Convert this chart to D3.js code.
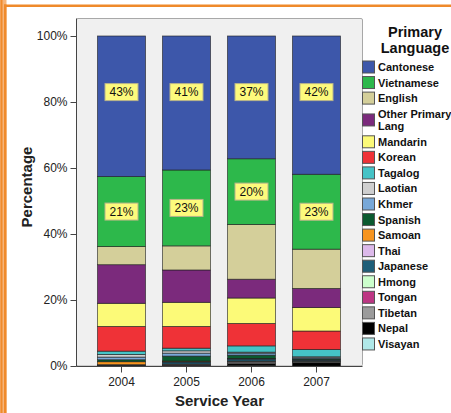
<!DOCTYPE html>
<html><head><meta charset="utf-8">
<script src="https://cdn.jsdelivr.net/npm/d3@7"></script>
<style>body{margin:0;background:#fff}svg{display:block}text{font-family:Arial,"Liberation Sans",sans-serif}</style>
</head><body><svg id="c" width="451" height="413"></svg>
<script>
const years = ["2004","2005","2006","2007"];
const languages = ["Cantonese","Vietnamese","English","Other Primary Lang","Mandarin","Korean","Tagalog","Laotian","Khmer","Spanish","Samoan","Thai","Japanese","Hmong","Tongan","Tibetan","Nepal","Visayan"];
const legendLines = [["Cantonese"],["Vietnamese"],["English"],["Other Primary","Lang"],["Mandarin"],["Korean"],["Tagalog"],["Laotian"],["Khmer"],["Spanish"],["Samoan"],["Thai"],["Japanese"],["Hmong"],["Tongan"],["Tibetan"],["Nepal"],["Visayan"]];
const palette = ["#3d57aa","#2db84b","#d4cf9a","#7b2a7c","#fcfa78","#ef3237","#45c3c6","#cfcfcf","#78a8d8","#0b5a2f","#f7941e","#dcb9ea","#1f5e78","#ccffcc","#bd3683","#9b9b9b","#000000","#b0e8e8"];
const cantonese = [42.6, 40.6, 37.2, 41.9];
const vietnamese = [21.2, 23.0, 19.9, 22.7];
const english = [5.5, 7.3, 16.6, 11.9];
const otherLang = [11.7, 9.8, 5.7, 5.8];
const mandarin = [7.0, 7.3, 7.7, 7.1];
const korean = [7.5, 6.6, 6.8, 5.6];
const tagalog = [1.0, 0.8, 1.9, 2.2];
const laotian = [0.8, 0.7, 0.3, 0.3];
const khmer = [0.8, 0.9, 0.6, 0.3];
const spanish = [0.6, 1.5, 1.0, 0.3];
const samoan = [0.9, 0.2, 0.1, 0.0];
const thai = [0.1, 0.1, 0.1, 0.1];
const japanese = [0.2, 0.6, 0.6, 0.3];
const hmong = [0.0, 0.1, 0.1, 0.1];
const tongan = [0.1, 0.2, 0.2, 0.1];
const tibetan = [0.0, 0.2, 0.5, 0.3];
const nepal = [0.0, 0.1, 0.5, 1.0];
const visayan = [0.0, 0.0, 0.2, 0.0];
const yTicks = [0, 20, 40, 60, 80, 100];
const labelledSeries = ["Cantonese","Vietnamese"];

const seriesValues = [cantonese, vietnamese, english, otherLang, mandarin, korean, tagalog, laotian, khmer, spanish, samoan, thai, japanese, hmong, tongan, tibetan, nepal, visayan];
const table = years.map((yr, i) => {
  const row = {year: yr};
  languages.forEach((l, j) => row[l] = seriesValues[j][i]);
  return row;
});

const svg = d3.select("#c");
// orange frame
svg.append("rect").attr("x",0).attr("y",0).attr("width",6.5).attr("height",413).attr("fill","#f6b57a");
svg.append("rect").attr("x",0.5).attr("y",0).attr("width",2).attr("height",413).attr("fill","#ef8a2b");
svg.append("rect").attr("x",4).attr("y",4.5).attr("width",2.5).attr("height",408.5).attr("fill","#ef8a2b");
svg.append("rect").attr("x",4).attr("y",4.5).attr("width",447).attr("height",2.5).attr("fill","#ef8a2b");

const x = d3.scaleBand().domain(years).range([76, 362]).paddingInner(17/65).paddingOuter(0.3308);
const y = d3.scaleLinear().domain([0, 100]).range([366, 36]);
const color = d3.scaleOrdinal().domain(languages).range(palette);

// panel
svg.append("rect").attr("x",76.5).attr("y",18.5).attr("width",286).attr("height",347.5)
  .attr("fill","#f0f0f0").attr("stroke","#a8a8a8").attr("rx",1.5);

const stack = d3.stack().keys(languages.slice().reverse());
const series = stack(table);
svg.append("g").selectAll("g").data(series).join("g")
  .attr("fill", d => color(d.key))
  .selectAll("rect").data(d => d.map(p => Object.assign(p, {key: d.key}))).join("rect")
  .attr("x", d => x(d.data.year)).attr("width", x.bandwidth())
  .attr("y", d => y(d[1])).attr("height", d => Math.max(0, y(d[0]) - y(d[1])))
  .attr("stroke", "rgba(30,30,30,0.75)").attr("stroke-width", 0.8);

// labels
const lab = svg.append("g");
series.filter(s => labelledSeries.includes(s.key)).forEach(s => {
  s.forEach(p => {
    const v = p[1] - p[0];
    const cy = s.key === "Cantonese" ? y(83) : y((p[0] + p[1]) / 2);
    const cx = x(p.data.year) + x.bandwidth() / 2;
    const g = lab.append("g").attr("transform", `translate(${cx},${cy})`);
    g.append("rect").attr("x",-16.5).attr("y",-8.5).attr("width",33).attr("height",17)
      .attr("fill","#fdfa7c").attr("stroke","#b8b48a").attr("stroke-width",1);
    g.append("text").attr("text-anchor","middle").attr("dy","0.36em").attr("font-size",12)
      .attr("fill","#111").text(Math.round(v) + "%");
  });
});

// axes
const yAxis = svg.append("g").attr("transform","translate(76.5,0)")
  .call(d3.axisLeft(y).tickValues(yTicks).tickFormat(d => d + "%").tickSize(6).tickPadding(3));
yAxis.select(".domain").attr("stroke","#444").attr("d","M0,18.5V366.5");
yAxis.selectAll(".tick line").attr("stroke","#444");
yAxis.selectAll("text").attr("font-size",12).attr("fill","#222").attr("font-family","Arial, 'Liberation Sans', sans-serif");

const xAxis = svg.append("g").attr("transform","translate(0,366.5)")
  .call(d3.axisBottom(x).tickSize(6).tickPadding(5));
xAxis.select(".domain").attr("stroke","#444").attr("d","M76.5,0H362.5");
xAxis.selectAll(".tick line").attr("stroke","#444");
xAxis.selectAll("text").attr("font-size",12).attr("fill","#222").attr("font-family","Arial, 'Liberation Sans', sans-serif");

svg.append("text").attr("x",219.5).attr("y",406).attr("text-anchor","middle")
  .attr("font-size",15).attr("font-weight","bold").attr("fill","#222").text("Service Year");
svg.append("text").attr("transform","translate(32,187) rotate(-90)").attr("text-anchor","middle")
  .attr("font-size",15).attr("font-weight","bold").attr("fill","#222").text("Percentage");

// legend
const lg = svg.append("g");
lg.append("text").attr("x",415).attr("y",37).attr("text-anchor","middle").attr("font-size",14.5)
  .attr("font-weight","bold").attr("fill","#111").text("Primary");
lg.append("text").attr("x",415).attr("y",53).attr("text-anchor","middle").attr("font-size",14.5)
  .attr("font-weight","bold").attr("fill","#111").text("Language");
let ly = 67;
languages.forEach((l, i) => {
  const lines = legendLines[i];
  const cy = ly + (lines.length - 1) * 6.3;
  lg.append("rect").attr("x",362.5).attr("y",cy - 6).attr("width",12).attr("height",12)
    .attr("fill", color(l)).attr("stroke","#555").attr("stroke-width",1);
  lines.forEach((t, k) => {
    lg.append("text").attr("x",378).attr("y", ly + k * 12.6).attr("dy","0.36em")
      .attr("font-size",11).attr("font-weight","bold").attr("fill","#111").text(t);
  });
  ly += 15.55 + (lines.length - 1) * 12.6;
});
</script></body></html>
